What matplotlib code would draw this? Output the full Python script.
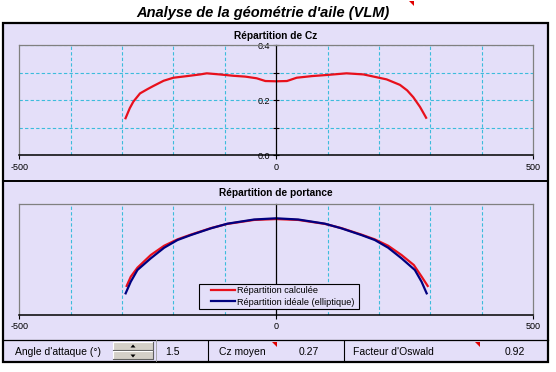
import numpy as np
import matplotlib
matplotlib.use("Agg")
import matplotlib.pyplot as plt
from matplotlib.patches import Rectangle, Polygon
from matplotlib.lines import Line2D

plt.rcParams["font.family"] = ["Liberation Sans", "DejaVu Sans"]

# --- data ---
cz_x = [-294, -285, -278, -265, -250, -239, -219, -200, -173, -148, -135, -110, -83, -60, -38, -21,
        0, 21, 40, 70, 99, 137, 170, 190, 215, 241, 255, 267, 280, 293]
cz_val = [0.130, 0.170, 0.194, 0.224, 0.240, 0.251, 0.270, 0.281, 0.287, 0.293, 0.297, 0.293, 0.288,
          0.285, 0.279, 0.269, 0.268, 0.269, 0.281, 0.287, 0.291, 0.297, 0.293, 0.285, 0.275, 0.255,
          0.235, 0.210, 0.175, 0.132]

ideal_x = [-293, -283, -270, -244, -218, -192, -166, -127, -95, -43, 0,
           43, 95, 127, 166, 192, 218, 244, 270, 283, 293]
ideal_val = [0.192, 0.298, 0.404, 0.510, 0.606, 0.676, 0.721, 0.782, 0.824, 0.862, 0.873,
             0.862, 0.824, 0.782, 0.721, 0.676, 0.606, 0.510, 0.404, 0.298, 0.192]

calc_x = [-291, -283, -270, -244, -218, -192, -166, -127, -95, -43, 0,
          43, 95, 127, 166, 192, 218, 244, 268, 283, 295]
calc_val = [0.259, 0.343, 0.425, 0.540, 0.624, 0.682, 0.725, 0.784, 0.822, 0.858, 0.866,
            0.858, 0.822, 0.784, 0.725, 0.682, 0.624, 0.540, 0.449, 0.345, 0.259]

x_ticks = [-500, 0, 500]
x_tick_labels = ["-500", "0", "500"]
x_grid = [-400, -300, -200, -100, 100, 200, 300, 400]
cz_ticks = [0.0, 0.2, 0.4]
cz_tick_labels = ["0.0", "0.2", "0.4"]
cz_minor = [0.1, 0.3]

angle_attaque = "1.5"
cz_moyen = "0.27"
facteur_oswald = "0.92"

W, H = 556, 372
BG = "#E4DFF9"
GRID = "#3CBCDC"
RED = "#E8101C"
NAVY = "#000080"


def fx(px):
    return px / W


def fy(py):
    return 1 - py / H


fig = plt.figure(figsize=(W / 100, H / 100), dpi=100)
fig.patch.set_facecolor("white")

# sheet frame
fig.add_artist(Rectangle((fx(3), fy(362)), fx(548) - fx(3), (362 - 23) / H,
                         transform=fig.transFigure, facecolor=BG, edgecolor="black", lw=1.6, zorder=-1))


def setup_axes(ax):
    ax.set_facecolor("none")
    ax.set_xlim(-500, 500)
    for s in ["top", "right"]:
        ax.spines[s].set_color("#808080")
        ax.spines[s].set_linewidth(0.9)
    ax.spines["left"].set_position(("data", 0))
    ax.spines["left"].set_color("black")
    ax.spines["left"].set_linewidth(0.9)
    ax.spines["bottom"].set_color("black")
    ax.spines["bottom"].set_linewidth(1.1)
    ax.plot([0, 0], [0, 1], transform=ax.transAxes, color="#808080", lw=0.9, clip_on=False)
    ax.set_xticks(x_ticks)
    ax.set_xticklabels(x_tick_labels, fontsize=6.5)
    ax.set_xticks(x_grid, minor=True)
    ax.tick_params(axis="x", which="major", direction="out", length=3, pad=2.5, width=0.8)
    ax.tick_params(axis="x", which="minor", length=0)
    ax.grid(which="minor", axis="x", color=GRID, ls=(0, (3, 2)), lw=0.8)


# top chart: Cz distribution
ax1 = fig.add_axes([fx(19.3), fy(155), (533 - 19.3) / W, (155 - 45) / H])
setup_axes(ax1)
ax1.set_ylim(0, 0.4)
ax1.set_yticks(cz_ticks)
ax1.set_yticklabels(cz_tick_labels, fontsize=6.5)
ax1.set_yticks(cz_minor, minor=True)
ax1.tick_params(axis="y", which="major", direction="inout", length=5, pad=1.5, width=0.8)
ax1.tick_params(axis="y", which="minor", direction="inout", length=4, width=0.8)
ax1.grid(which="both", axis="y", color=GRID, ls=(0, (3, 2)), lw=0.8)
ax1.plot(cz_x, cz_val, color=RED, lw=1.6, solid_capstyle="butt")

# bottom chart: lift distribution
ax2 = fig.add_axes([fx(19.3), fy(314.5), (533 - 19.3) / W, (314.5 - 204.3) / H])
setup_axes(ax2)
ax2.set_ylim(0, 1)
ax2.set_yticks([])
ax2.plot(calc_x, calc_val, color=RED, lw=1.6, label="Répartition calculée")
ax2.plot(ideal_x, ideal_val, color=NAVY, lw=1.6, label="Répartition idéale (elliptique)")

# legend box drawn as in the sheet, entries placed inside
ax2.add_patch(Rectangle((fx(198.5), fy(309)), (359 - 198.5) / W, (309 - 283.5) / H,
                        transform=fig.transFigure, facecolor=BG, edgecolor="black", lw=0.8,
                        zorder=5, clip_on=False))
leg = ax2.legend(loc="upper left", bbox_to_anchor=(fx(208), fy(283.5)), bbox_transform=fig.transFigure,
                 fontsize=6.6, frameon=False, handlelength=2.6, handletextpad=0.3, borderpad=0.3,
                 labelspacing=0.25, borderaxespad=0)
leg.set_zorder(6)

# titles
fig.text(fx(263), fy(13), "Analyse de la géométrie d'aile (VLM)", fontsize=10.5, fontweight="bold",
         fontstyle="italic", ha="center", va="center")
fig.text(fx(276), fy(36), "Répartition de Cz", fontsize=7.3, fontweight="bold", ha="center", va="center")
fig.text(fx(276), fy(193), "Répartition de portance", fontsize=7.3, fontweight="bold", ha="center", va="center")

# separators
fig.add_artist(Line2D([fx(3), fx(548)], [fy(180.5)] * 2, color="black", lw=1.4))
fig.add_artist(Line2D([fx(3), fx(548)], [fy(339.5)] * 2, color="black", lw=0.9))
for xs in [208, 344]:
    fig.add_artist(Line2D([fx(xs)] * 2, [fy(341), fy(360)], color="black", lw=0.8))
fig.add_artist(Line2D([fx(155.5)] * 2, [fy(340), fy(361)], color="#A0A0A0", lw=0.6))

# spinner buttons
for top in [341.5, 350.5]:
    fig.add_artist(Rectangle((fx(113), fy(top + 8.5)), 40 / W, 8.5 / H, transform=fig.transFigure,
                             facecolor="#D4D0C8", edgecolor="none"))
    fig.add_artist(Line2D([fx(113), fx(113), fx(153)], [fy(top + 8.5), fy(top), fy(top)], color="white", lw=0.8))
    fig.add_artist(Line2D([fx(113), fx(153), fx(153)], [fy(top + 8.5), fy(top + 8.5), fy(top)],
                          color="#606060", lw=0.8))
fig.add_artist(Polygon([[fx(130.5), fy(347.5)], [fx(135.5), fy(347.5)], [fx(133), fy(344.5)]],
                       closed=True, transform=fig.transFigure, facecolor="black", edgecolor="none"))
fig.add_artist(Polygon([[fx(130.5), fy(354.5)], [fx(135.5), fy(354.5)], [fx(133), fy(357.5)]],
                       closed=True, transform=fig.transFigure, facecolor="black", edgecolor="none"))

# bottom row texts
row_y = fy(352)
fig.text(fx(15), row_y, "Angle d'attaque (°)", fontsize=7.5, va="center")
fig.text(fx(165), row_y, angle_attaque, fontsize=7.5, va="center")
fig.text(fx(219), row_y, "Cz moyen", fontsize=7.5, va="center")
fig.text(fx(299), row_y, cz_moyen, fontsize=7.5, va="center")
fig.text(fx(353), row_y, "Facteur d'Oswald", fontsize=7.5, va="center")
fig.text(fx(505), row_y, facteur_oswald, fontsize=7.5, va="center")

# comment markers
for cx, cy in [(272, 342), (475, 342), (409, 1)]:
    fig.add_artist(Polygon([[fx(cx), fy(cy)], [fx(cx + 5), fy(cy)], [fx(cx + 5), fy(cy + 5)]],
                           closed=True, transform=fig.transFigure, facecolor="#E00000", edgecolor="none"))

fig.savefig("out.png", dpi=100)
